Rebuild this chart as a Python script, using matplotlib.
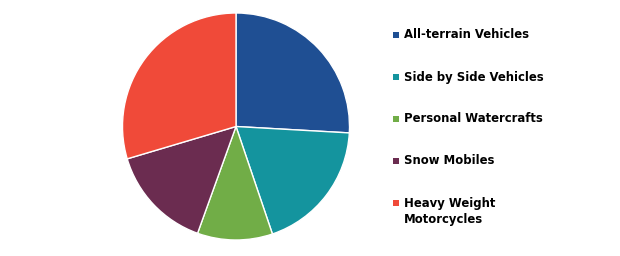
import matplotlib
matplotlib.use("Agg")
import matplotlib.pyplot as plt
from matplotlib.patches import Rectangle

categories = ["All-terrain Vehicles", "Side by Side Vehicles", "Personal Watercrafts",
              "Snow Mobiles", "Heavy Weight\nMotorcycles"]
shares = [25.9, 18.9, 10.7, 14.9, 29.6]
colors = ["#1F4F93", "#14949E", "#71AD47", "#6B2C50", "#F04A39"]

W, H = 620, 256
fig = plt.figure(figsize=(W / 100, H / 100), dpi=100)
ax = fig.add_axes([122.5 / W, 16 / H, 227 / W, 227 / H])
ax.pie(shares, colors=colors, startangle=90, counterclock=False,
       wedgeprops=dict(edgecolor="white", linewidth=1.0))
ax.set_xlim(-1, 1)
ax.set_ylim(-1, 1)
ax.set_aspect("equal")
ax.axis("off")

# legend
for i, (lab, c) in enumerate(zip(categories, colors)):
    yc = 35 + i * 42
    fig.add_artist(Rectangle((393 / W, 1 - (yc + 3) / H), 6 / W, 6 / H,
                             transform=fig.transFigure, facecolor=c, edgecolor="none"))
    fig.text(404 / W, 1 - (yc - 6.5) / H, lab, fontsize=8.4, fontweight="bold",
             color="#000000", va="top", ha="left", linespacing=1.4,
             family="DejaVu Sans")

fig.savefig("out.png", dpi=100, facecolor="white")
